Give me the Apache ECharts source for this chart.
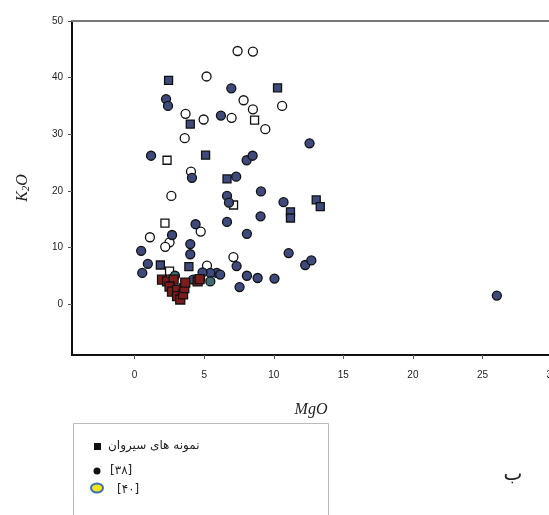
<!DOCTYPE html>
<html>
<head>
<meta charset="utf-8">
<script src="https://cdn.jsdelivr.net/npm/echarts@6/dist/echarts.min.js"></script>
<style>
html,body{margin:0;padding:0;background:#fff;}
#c{width:549px;height:515px;}
</style>
</head>
<body>
<div id="c"></div>
<script>
// ---- data (MgO, K2O) ----
var xTicks = [0, 5, 10, 15, 20, 25, 30];
var yTicks = [0, 10, 20, 30, 40, 50];

var sirvanSamples = [[1.97,4.3],[2.33,4.0],[2.8,4.3],[2.51,3.1],[2.69,2.2],[3.05,2.5],[3.05,1.4],[3.28,0.8],[3.48,1.7],[3.57,2.8],[3.64,3.8],[4.53,4.0],[4.67,4.4]];

var ref38Circles = [[6.95,38.1],[2.26,36.2],[2.4,35.0],[6.2,33.3],[12.57,28.4],[1.18,26.2],[8.05,25.4],[8.48,26.2],[4.12,22.3],[7.3,22.5],[9.08,19.9],[6.64,19.1],[6.78,17.9],[10.7,18.0],[9.05,15.5],[4.38,14.1],[6.64,14.5],[8.07,12.4],[2.69,12.2],[0.47,9.4],[4.0,10.6],[4.0,8.8],[0.95,7.1],[0.55,5.5],[5.9,5.5],[5.44,5.5],[6.15,5.2],[4.88,5.6],[4.2,4.3],[7.33,6.7],[8.07,5.0],[8.84,4.6],[10.05,4.5],[7.54,3.0],[11.07,9.0],[12.26,6.9],[12.7,7.7],[26.03,1.5]];
var ref38Teal = [[2.9,5.0],[4.72,4.4],[5.44,4.0]];
var ref38Squares = [[2.44,39.5],[10.27,38.2],[4.0,31.8],[5.1,26.3],[6.64,22.1],[1.85,6.9],[3.9,6.6],[13.05,18.4],[13.34,17.2],[11.2,16.3],[11.2,15.2]];

var ref40Circles = [[7.4,44.7],[8.5,44.6],[5.17,40.2],[7.83,36.0],[3.66,33.6],[8.5,34.4],[10.6,35.0],[4.96,32.6],[6.97,32.9],[9.39,30.9],[3.6,29.3],[4.05,23.4],[2.64,19.1],[4.75,12.8],[1.1,11.8],[2.51,10.9],[2.2,10.1],[5.2,6.8],[7.1,8.3]];
var ref40Squares = [[8.62,32.5],[2.33,25.4],[7.11,17.5],[2.18,14.3],[2.51,5.8]];

var legendLabels = ['نمونه های سیروان', '[۳۸]', '[۴۰]'];
var panelLetter = 'ب';

// ---- chart ----
var chart = echarts.init(document.getElementById('c'), null, {renderer: 'canvas'});
var tickFont = {fontFamily: 'Liberation Sans, Arial, sans-serif', fontSize: 10, color: '#222'};

function sc(name, data, symbol, size, fill) {
  return {
    name: name, type: 'scatter', data: data, symbol: symbol, symbolSize: size,
    itemStyle: {color: fill, borderColor: '#111', borderWidth: 1.3, opacity: 1},
    emphasis: {disabled: true}, z: 3
  };
}

chart.setOption({
  animation: false,
  backgroundColor: '#fff',
  grid: {left: 72, top: 21, width: 494, bottom: 160, containLabel: false, outerBoundsMode: 'none'},
  xAxis: [{
    type: 'value', min: -4.5, max: 31, position: 'bottom',
    name: 'MgO', nameLocation: 'middle', nameGap: 47,
    nameTextStyle: {fontFamily: 'Liberation Serif, Times New Roman, serif', fontStyle: 'italic', fontSize: 16, color: '#222', padding: [0, 16, 0, 0]},
    axisLine: {show: true, onZero: false, lineStyle: {color: '#111', width: 2}},
    axisTick: {show: true, length: 4, customValues: xTicks, lineStyle: {color: '#555'}},
    axisLabel: Object.assign({margin: 15, customValues: xTicks, hideOverlap: false}, tickFont),
    splitLine: {show: false}
  }, {
    type: 'value', min: -4.5, max: 31, position: 'top',
    axisLine: {show: true, onZero: false, lineStyle: {color: '#777', width: 2}},
    axisTick: {show: false}, axisLabel: {show: false}, splitLine: {show: false}
  }],
  yAxis: {
    type: 'value', min: -9, max: 50,
    name: '{i|K}{s|2}{i|O}', nameLocation: 'middle', nameGap: 40, nameRotate: 90,
    nameTextStyle: {
      padding: [0, 0, 0, 0],
      rich: {
        i: {fontFamily: 'Liberation Serif, Times New Roman, serif', fontStyle: 'italic', fontSize: 16, color: '#222'},
        s: {fontFamily: 'Liberation Serif, Times New Roman, serif', fontStyle: 'italic', fontSize: 11, color: '#222', verticalAlign: 'bottom', padding: [8, 0, 0, 0]}
      }
    },
    axisLine: {show: true, onZero: false, lineStyle: {color: '#111', width: 2}},
    axisTick: {show: true, length: 4, customValues: yTicks, lineStyle: {color: '#555'}},
    axisLabel: Object.assign({margin: 9, customValues: yTicks}, tickFont),
    splitLine: {show: false}
  },
  series: [
    sc('ref40c', ref40Circles, 'circle', 9, '#ffffff'),
    sc('ref40s', ref40Squares, 'rect', 8, '#ffffff'),
    sc('ref38c', ref38Circles, 'circle', 9, '#3e4a7c'),
    sc('ref38t', ref38Teal, 'circle', 9, '#3f6d72'),
    sc('ref38s', ref38Squares, 'rect', 8, '#3e4a7c'),
    sc('sirvan', sirvanSamples, 'rect', 9, '#7e1c1c')
  ],
  graphic: [
    {type: 'rect', shape: {x: 73.5, y: 423.5, width: 255, height: 100}, style: {fill: '#fff', stroke: '#bbb', lineWidth: 1}},
    {type: 'rect', shape: {x: 94, y: 443, width: 7, height: 7}, style: {fill: '#111'}},
    {type: 'text', x: 108, y: 446, style: {text: legendLabels[0], fontFamily: 'DejaVu Sans, sans-serif', fontSize: 12, fill: '#222', verticalAlign: 'middle', align: 'left'}},
    {type: 'circle', shape: {cx: 97, cy: 471, r: 3.5}, style: {fill: '#111'}},
    {type: 'text', x: 110, y: 471, style: {text: legendLabels[1], fontFamily: 'DejaVu Sans, sans-serif', fontSize: 12, fill: '#222', verticalAlign: 'middle', align: 'left'}},
    {type: 'ellipse', shape: {cx: 97, cy: 488, rx: 6, ry: 4.5}, style: {fill: '#f2e41a', stroke: '#3b6fb5', lineWidth: 2}},
    {type: 'text', x: 117, y: 490, style: {text: legendLabels[2], fontFamily: 'DejaVu Sans, sans-serif', fontSize: 12, fill: '#222', verticalAlign: 'middle', align: 'left'}},
    {type: 'text', x: 513, y: 475, style: {text: panelLetter, fontFamily: 'DejaVu Sans, sans-serif', fontSize: 20, fill: '#222', verticalAlign: 'middle', align: 'center'}}
  ]
});
</script>
</body>
</html>
